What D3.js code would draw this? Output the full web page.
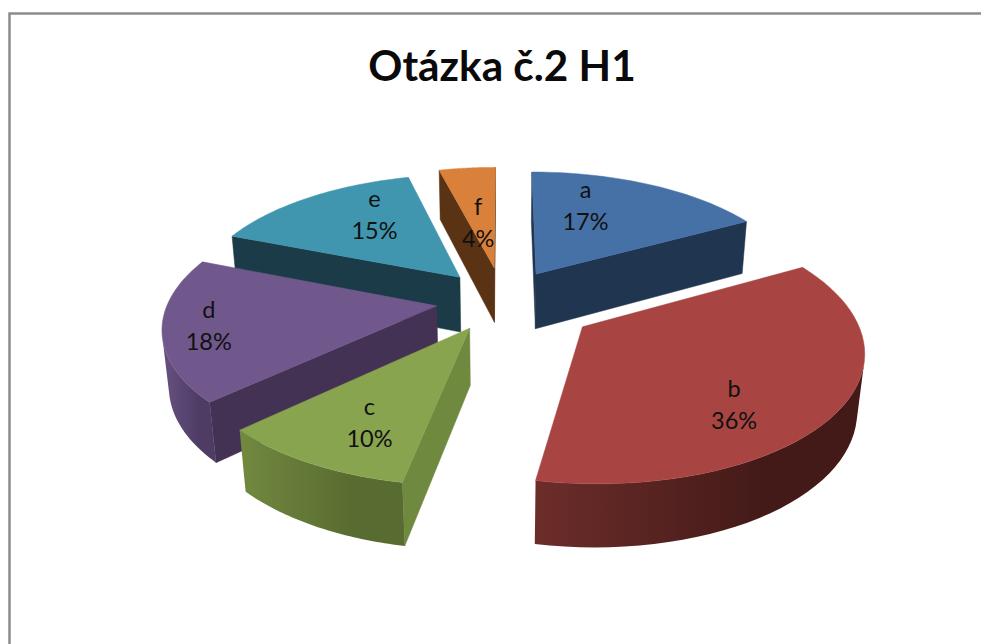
<!DOCTYPE html>
<html>
<head>
<meta charset="utf-8">
<script src="https://d3js.org/d3.v7.min.js"></script>
<style>
  html, body { margin: 0; padding: 0; background: #fff; overflow: hidden; }
  text { font-family: Lato, "Open Sans", sans-serif; }
</style>
</head>
<body>
<div id="chart"></div>
<script>
const title = "Otázka č.2 H1";
const categories = ["a", "b", "c", "d", "e", "f"];
const percents = [17, 36, 10, 18, 15, 4];

// colours per slice: top face, straight side, outer wall light / dark
const topColors = ["#4671a7", "#a84543", "#88a44e", "#70588c", "#4096ae", "#d9813b"];
const sideColors = ["#20354f", "#421a18", "#6f893f", "#433253", "#1a3b47", "#5a3214"];
const wallLight = ["#2c4a70", "#6c2d2a", "#72893f", "#675181", "#24505f", "#8a5222"];
const wallDark = ["#20354f", "#431a18", "#586b30", "#4e3c65", "#1a3b47", "#5a3214"];

const width = 981, height = 644;

// perspective of the pie, fitted by eye
const cx = 503, cy = 300;
const rx = 268, ry = 124.5, thick = 57;
const persp = 0.15, perspZ = 0.02;

const explode = d => d.data === "b" ? 0.355 : (d.data === "f" ? 0.27 : 0.25);

// where Excel put the labels compared to the middle of the slice
const labelNudge = { a: [-22, -11], b: [5, 30], c: [-10, 20], d: [-65, 7], e: [9, -12], f: [1, 19] };

const svg = d3.select("#chart").append("svg")
  .attr("width", width)
  .attr("height", height);

svg.append("rect")
  .attr("x", 9.5).attr("y", 13.5)
  .attr("width", width + 50).attr("height", height + 50)
  .attr("fill", "#fff")
  .attr("stroke", "#8c8c8c")
  .attr("stroke-width", 2.5);

svg.append("text")
  .attr("x", 502)
  .attr("y", 81)
  .attr("text-anchor", "middle")
  .attr("font-size", 42.3)
  .attr("font-weight", 700)
  .attr("fill", "#0a0a0a")
  .text(title);

// x,y on the pie floor, z 0 = top face, 1 = bottom
const project = (x, y, z) => {
  const w = 1 + persp * y + perspZ * z;
  return [cx + rx * x / w, cy + (-ry * y + thick * z) / w];
};

const pie = d3.pie().sort(null).value((d, i) => percents[i]);
const slices = pie(categories);

const line = d3.line();
const defs = svg.append("defs");

const slicePoint = (d, r, angle, z) => {
  const mid = (d.startAngle + d.endAngle) / 2;
  const e = explode(d);
  const x = e * Math.sin(mid) + r * Math.sin(angle);
  const y = e * Math.cos(mid) + r * Math.cos(angle);
  return project(x, y, z);
};

// back to front so the near slices cover the far ones
const order = slices.slice().sort((p, q) => {
  const mp = (p.startAngle + p.endAngle) / 2, mq = (q.startAngle + q.endAngle) / 2;
  return explode(q) * Math.cos(mq) - explode(p) * Math.cos(mp);
});

const pieG = svg.append("g");

order.forEach(d => {
  const g = pieG.append("g").attr("class", "slice-" + d.data);
  const steps = d3.range(0, 49).map(k => d.startAngle + (d.endAngle - d.startAngle) * k / 48);

  // the straight sides
  const sides = [
    [slicePoint(d, 0, 0, 0), slicePoint(d, 1, d.startAngle, 0), slicePoint(d, 1, d.startAngle, 1), slicePoint(d, 0, 0, 1)],
    [slicePoint(d, 1, d.endAngle, 0), slicePoint(d, 0, 0, 0), slicePoint(d, 0, 0, 1), slicePoint(d, 1, d.endAngle, 1)]
  ];
  sides.forEach(q => {
    if (d3.polygonArea(q) > 0) {
      g.append("path")
        .attr("d", line(q) + "Z")
        .attr("fill", sideColors[d.index])
        .attr("stroke", sideColors[d.index])
        .attr("stroke-width", 0.5);
    }
  });

  // outer wall, only the part that looks to the camera
  const seen = [];
  for (let k = 0; k < steps.length - 1; k++) {
    const q = [slicePoint(d, 1, steps[k], 0), slicePoint(d, 1, steps[k + 1], 0),
               slicePoint(d, 1, steps[k + 1], 1), slicePoint(d, 1, steps[k], 1)];
    if (d3.polygonArea(q) > 0) seen.push(k, k + 1);
  }
  if (seen.length) {
    const first = d3.min(seen), last = d3.max(seen);
    const vis = steps.slice(first, last + 1);
    const wall = vis.map(a => slicePoint(d, 1, a, 0))
      .concat(vis.slice().reverse().map(a => slicePoint(d, 1, a, 1)));
    const grad = defs.append("linearGradient").attr("id", "wall-" + d.data);
    grad.append("stop").attr("offset", "0%").attr("stop-color", wallLight[d.index]);
    grad.append("stop").attr("offset", "70%").attr("stop-color", wallDark[d.index]);
    g.append("path")
      .attr("d", line(wall) + "Z")
      .attr("fill", "url(#wall-" + d.data + ")");
  }

  // top face
  const face = [slicePoint(d, 0, 0, 0)].concat(steps.map(a => slicePoint(d, 1, a, 0)));
  g.append("path")
    .attr("d", line(face) + "Z")
    .attr("fill", topColors[d.index])
    .attr("stroke", topColors[d.index])
    .attr("stroke-width", 0.5);
});

// labels go on top of everything
slices.forEach(d => {
  const mid = (d.startAngle + d.endAngle) / 2;
  const p = slicePoint(d, 0.6, mid, 0);
  const n = labelNudge[d.data];
  const t = svg.append("text")
    .attr("text-anchor", "middle")
    .attr("font-size", 23.5)
    .attr("fill", "#111");
  t.append("tspan").attr("x", p[0] + n[0]).attr("y", p[1] + n[1] - 9).text(d.data);
  t.append("tspan").attr("x", p[0] + n[0]).attr("y", p[1] + n[1] + 23).text(percents[d.index] + "%");
});
</script>
</body>
</html>
